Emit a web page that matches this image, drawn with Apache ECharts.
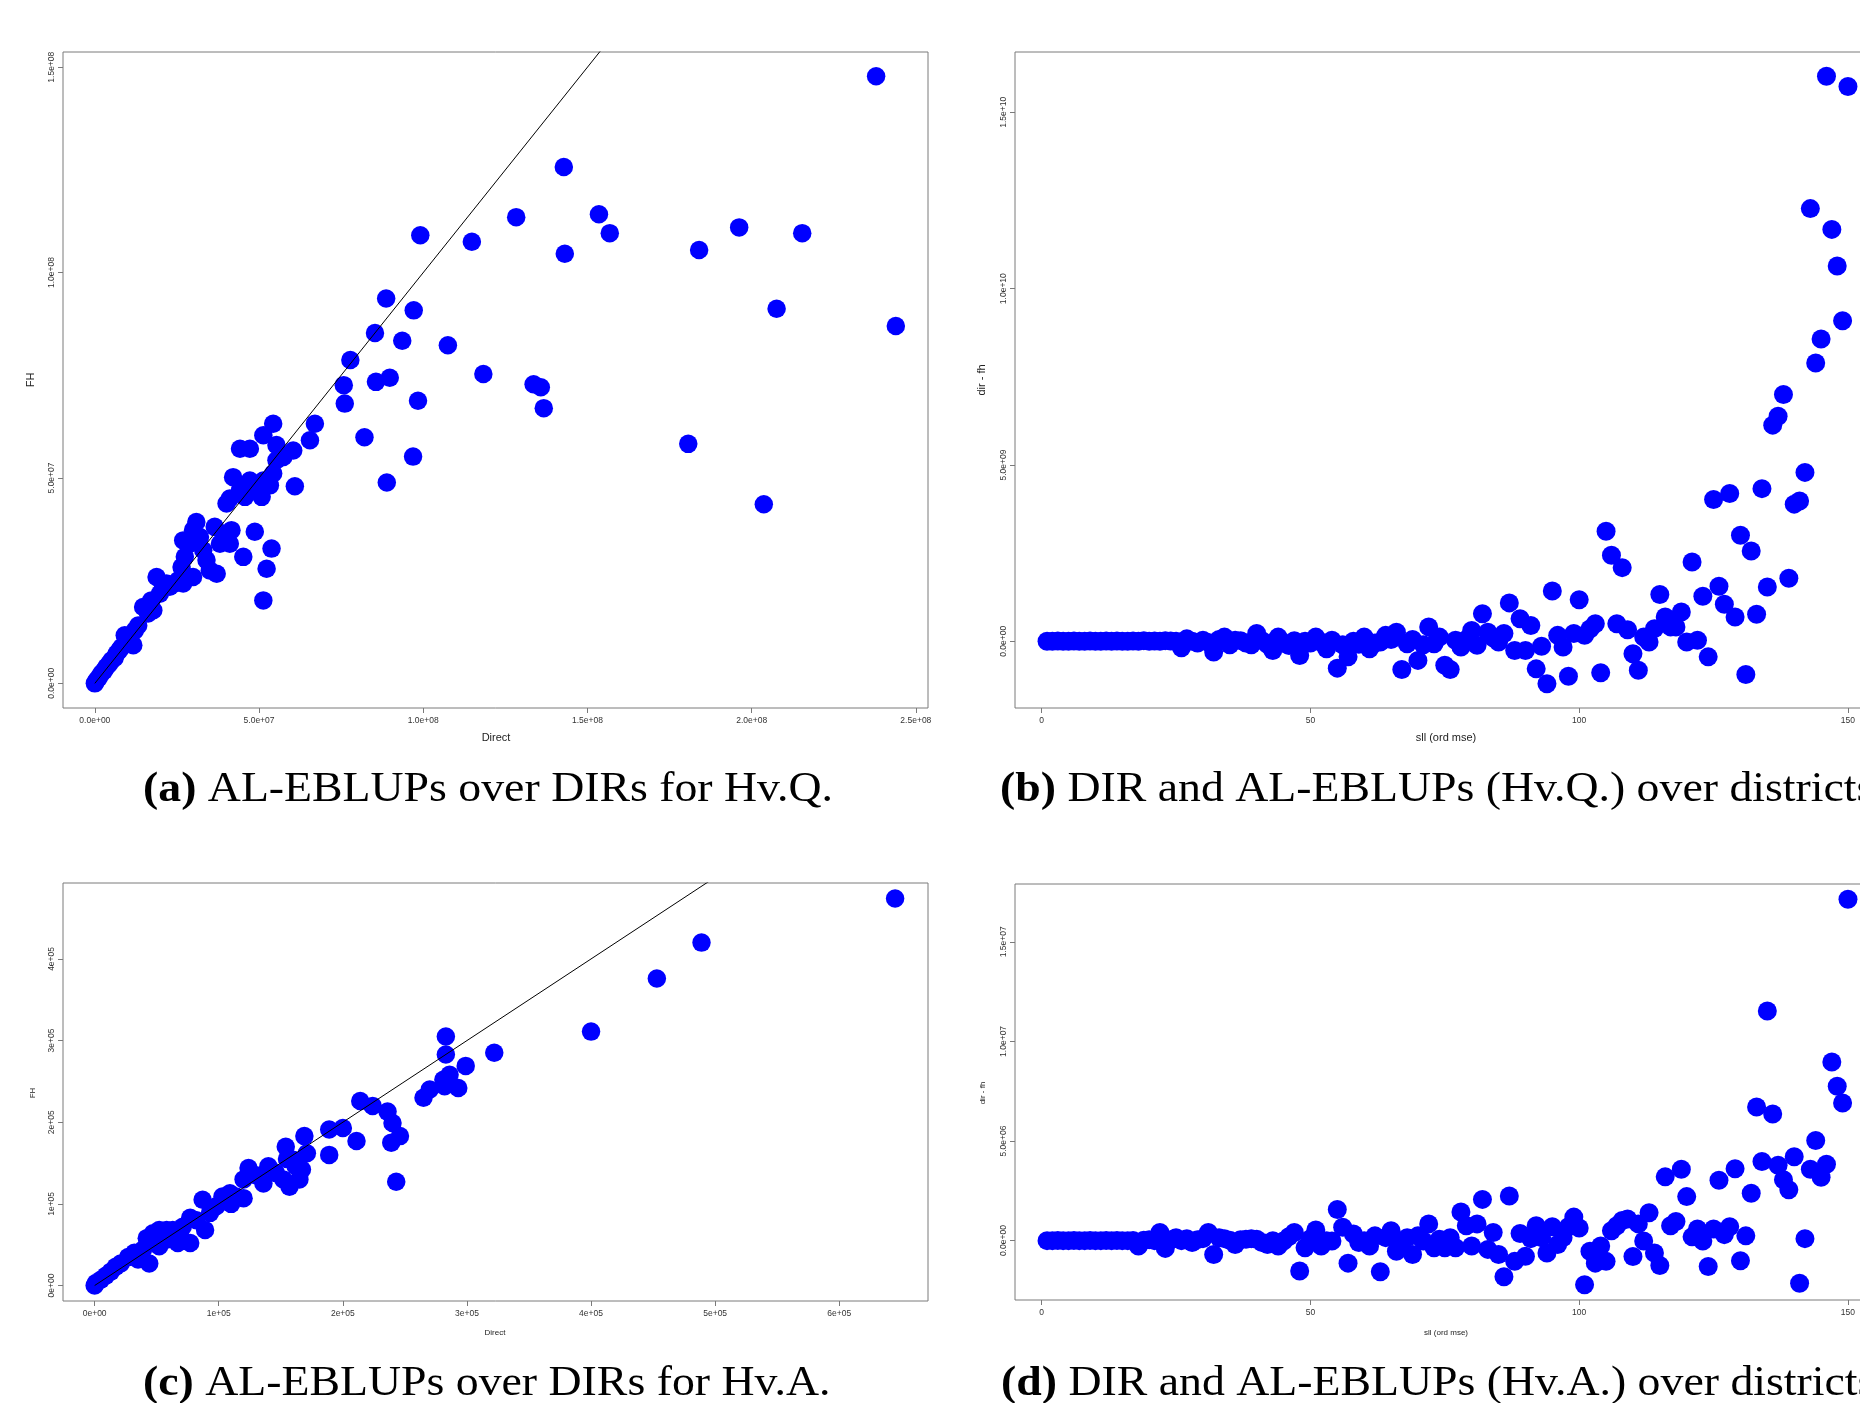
<!DOCTYPE html>
<html><head><meta charset="utf-8">
<script src="https://cdn.jsdelivr.net/npm/echarts@6/dist/echarts.min.js"></script>
<style>html,body{margin:0;padding:0;background:#fff}#c{width:1860px;height:1403px}</style>
</head><body><div id="c"></div><script>
// ---------- Panel (a): Hv.Q. FH over Direct ----------
const aDirect = [23.79e7,14.28e7,12.83e7,15.35e7,15.68e7,9.91e7,11.48e7,14.31e7,18.40e7,19.62e7,21.54e7,20.76e7,24.39e7,8.87e7,9.71e7,8.53e7,9.36e7,10.75e7,7.78e7,11.83e7,7.58e7,8.56e7,8.98e7,13.36e7,13.58e7,13.67e7,9.84e7,7.61e7,9.69e7,18.07e7,20.37e7,8.89e7,8.21e7,
 0.05e7,0.20e7,0.35e7,0.51e7,0.66e7,0.81e7,0.91e7,1.06e7,1.17e7,1.22e7,1.32e7,1.47e7,1.62e7,1.78e7,1.72e7,1.88e7,1.98e7,2.08e7,2.18e7,2.28e7,2.43e7,2.54e7,2.69e7,2.84e7,2.99e7,2.64e7,2.74e7,2.69e7,2.89e7,2.99e7,3.09e7,3.20e7,3.30e7,3.40e7,3.50e7,3.71e7,3.65e7,3.81e7,3.91e7,4.11e7,4.16e7,4.52e7,4.87e7,5.23e7,5.38e7,5.13e7,4.01e7,4.11e7,4.21e7,4.42e7,4.57e7,4.72e7,4.92e7,5.08e7,5.13e7,5.33e7,5.43e7,5.53e7,5.74e7,6.04e7,5.13e7,5.43e7,4.72e7,4.42e7,5.53e7,6.09e7,6.55e7,6.70e7,
 0.12e7,0.28e7,0.43e7,0.60e7,0.74e7,0.98e7,0];
const aFH = [14.78e7,12.57e7,11.35e7,11.42e7,10.96e7,10.91e7,10.75e7,10.46e7,10.55e7,11.10e7,10.96e7,9.12e7,8.70e7,9.37e7,9.08e7,8.53e7,8.34e7,8.23e7,7.87e7,7.53e7,7.26e7,7.34e7,7.44e7,7.28e7,7.21e7,6.70e7,6.88e7,6.81e7,5.52e7,5.83e7,4.36e7,4.89e7,5.99e7,
 0.07e7,0.24e7,0.40e7,0.56e7,0.72e7,0.88e7,1.17e7,1.13e7,0.93e7,1.29e7,1.41e7,1.86e7,1.70e7,1.78e7,2.02e7,2.59e7,2.18e7,2.35e7,2.43e7,2.35e7,2.43e7,2.51e7,2.43e7,2.59e7,2.59e7,2.83e7,3.08e7,3.48e7,3.40e7,3.73e7,3.93e7,3.56e7,3.24e7,3.00e7,2.75e7,2.67e7,3.81e7,3.40e7,3.64e7,3.40e7,3.73e7,3.08e7,3.69e7,2.79e7,3.28e7,2.02e7,4.38e7,4.50e7,5.02e7,4.70e7,4.54e7,4.94e7,4.78e7,4.54e7,4.94e7,4.82e7,5.11e7,5.43e7,5.51e7,5.67e7,6.04e7,6.32e7,5.71e7,5.71e7,5.80e7,4.80e7,5.92e7,6.32e7,
 0.14e7,0.31e7,0.47e7,0.62e7,0.80e7,1.02e7,0];
const aXTicks = [0, 5e7, 1e8, 1.5e8, 2e8, 2.5e8];
const aXLabels = ['0.0e+00','5.0e+07','1.0e+08','1.5e+08','2.0e+08','2.5e+08'];
const aYTicks = [0, 5e7, 1e8, 1.5e8];
const aYLabels = ['0.0e+00','5.0e+07','1.0e+08','1.5e+08'];

// ---------- Panel (b): Hv.Q. dir - fh over sll (ord mse) ----------
const bDiff = [0.00,0.00,0.01,0.00,0.00,0.01,0.00,0.00,0.01,0.00,0.00,0.01,0.00,0.01,0.00,0.00,0.01,0.00,0.02,0.00,0.01,0.00,0.02,0.01,0.00,
 -0.18,0.07,0.00,-0.05,0.03,-0.03,-0.30,0.05,0.12,-0.10,0.03,0.02,-0.05,-0.10,0.22,0.02,-0.08,-0.26,0.12,-0.05,-0.12,0.02,-0.40,0.00,-0.05,
 0.12,-0.03,-0.21,0.03,-0.76,-0.10,-0.44,0.00,-0.08,0.12,-0.21,-0.05,-0.02,0.17,0.05,0.26,-0.80,-0.07,0.05,-0.54,-0.10,0.41,-0.07,0.12,-0.68,
 -0.80,0.03,-0.16,0.05,0.31,-0.11,0.78,0.26,0.10,-0.02,0.22,1.09,-0.26,0.64,-0.26,0.45,-0.78,-0.14,-1.20,1.43,0.17,-0.16,-0.99,0.22,1.18,
 0.17,0.35,0.50,-0.89,3.12,2.44,0.50,2.09,0.33,-0.35,-0.82,0.12,-0.02,0.36,1.33,0.69,0.41,0.41,0.83,-0.02,2.25,0.03,1.28,-0.44,4.02,
 1.56,1.05,4.19,0.69,3.01,-0.94,2.56,0.77,4.33,1.54,6.13,6.38,7.00,1.79,3.89,3.98,4.79,12.27,7.89,8.57,16.02,11.68,10.64,9.09,15.73]; // x 1e9
const bXTicks = [0, 50, 100, 150];
const bXLabels = ['0','50','100','150'];
const bYTicks = [0, 5e9, 1e10, 1.5e10];
const bYLabels = ['0.0e+00','5.0e+09','1.0e+10','1.5e+10'];

// ---------- Panel (c): Hv.A. FH over Direct ----------
const cDirect = [0,0.01,0.05,0.09,0.13,0.17,0.21,0.27,0.32,0.39,0.44,0.42,0.47,0.52,0.58,0.63,0.67,0.70,0.77,0.77,0.71,0.52,0.58,0.89,0.87,0.93,0.98,1.03,1.09,1.14,1.20,1.20,1.24,1.36,1.40,1.46,1.52,1.54,1.57,1.60,1.62,1.65,1.67,1.71,1.69,1.89,2.00,1.89,2.11,2.14,2.24,2.36,2.40,2.46,2.39,2.43,2.65,2.70,2.81,2.82,2.86,2.93,2.83,2.83,2.99,3.22,4.00,4.53,4.89,6.45,0.35,0.60,0.82,1.30,1.55,1.10]; // x 1e5
const cFH = [0,0.03,0.07,0.12,0.17,0.23,0.27,0.35,0.40,0.44,0.27,0.58,0.64,0.68,0.68,0.68,0.52,0.56,0.52,0.83,0.72,0.48,0.56,0.68,1.05,0.89,0.97,1.09,1.13,1.09,1.07,1.30,1.44,1.25,1.46,1.38,1.30,1.70,1.21,1.54,1.46,1.30,1.42,1.62,1.83,1.91,1.93,1.60,1.77,2.26,2.20,2.13,1.99,1.83,1.75,1.27,2.30,2.40,2.52,2.44,2.58,2.42,2.83,3.05,2.69,2.85,3.11,3.76,4.20,4.74,0.32,0.60,0.80,1.35,1.55,1.00]; // x 1e5
const cXTicks = [0, 1e5, 2e5, 3e5, 4e5, 5e5, 6e5];
const cXLabels = ['0e+00','1e+05','2e+05','3e+05','4e+05','5e+05','6e+05'];
const cYTicks = [0, 1e5, 2e5, 3e5, 4e5];
const cYLabels = ['0e+00','1e+05','2e+05','3e+05','4e+05'];

// ---------- Panel (d): Hv.A. dir - fh over sll (ord mse) ----------
const dDiff = [0.00,0.00,0.01,0.00,0.00,0.01,0.00,0.00,0.01,0.00,0.00,0.01,0.00,0.01,0.00,0.00,0.01,-0.27,0.02,0.05,0.00,0.41,-0.39,0.05,0.15,
 0.00,0.10,-0.10,0.05,0.10,0.41,-0.70,0.15,0.10,0.02,-0.19,0.05,0.07,0.10,0.07,-0.10,-0.19,0.00,-0.27,-0.02,0.20,0.41,-1.52,-0.36,0.10,
 0.53,-0.27,0.00,-0.02,1.56,0.67,-1.13,0.33,-0.10,0.00,-0.27,0.24,-1.56,0.15,0.50,-0.53,-0.10,0.15,-0.70,0.24,-0.02,0.84,-0.36,0.07,-0.36,
 0.15,-0.36,1.44,0.75,-0.27,0.84,2.07,-0.44,0.41,-0.70,-1.81,2.24,-1.04,0.36,-0.79,0.10,0.75,0.15,-0.62,0.70,-0.19,0.15,0.70,1.18,0.63,
 -2.21,-0.53,-1.13,-0.27,-1.04,0.50,0.75,1.01,1.09,-0.80,0.84,-0.02,1.40,-0.62,-1.25,3.20,0.75,0.96,3.58,2.21,0.19,0.58,-0.02,-1.30,0.58,
 3.03,0.30,0.70,3.61,-1.01,0.24,2.38,6.71,3.97,11.53,6.36,3.78,3.06,2.55,4.21,-2.14,0.10,3.58,5.03,3.18,3.83,8.97,7.75,6.91,17.13]; // x 1e6
const dXTicks = [0, 50, 100, 150];
const dXLabels = ['0','50','100','150'];
const dYTicks = [0, 5e6, 1e7, 1.5e7];
const dYLabels = ['0.0e+00','5.0e+06','1.0e+07','1.5e+07'];

const ptsA = aDirect.map((x, i) => [x, aFH[i]]);
const ptsB = bDiff.map((y, i) => [i + 1, y * 1e9]);
const ptsC = cDirect.map((x, i) => [x * 1e5, cFH[i] * 1e5]);
const ptsD = dDiff.map((y, i) => [i + 1, y * 1e6]);

const TICKFONT = 'Liberation Sans Narrow, Liberation Sans, Arial, sans-serif';
const SERIF = 'Liberation Serif, Times New Roman, serif';
const BOX = '#7a7a7a';
function fmt(vals, labels) {
  return function (v) {
    const i = vals.findIndex(t => Math.abs(t - v) <= 1e-6 * Math.max(1, Math.abs(t)));
    return i >= 0 ? labels[i] : '';
  };
}
function ax(gi, min, max, vals, labels, isY) {
  return {
    type: 'value', gridIndex: gi, min: min, max: max, scale: true,
    axisLine: { show: false, onZero: false },
    splitLine: { show: false },
    axisTick: { show: true, inside: false, length: 5, customValues: vals, lineStyle: { color: BOX, width: 1 } },
    axisLabel: {
      customValues: vals, formatter: fmt(vals, labels), fontSize: 8.5, fontFamily: TICKFONT,
      color: '#333', margin: isY ? 7 : 8, rotate: isY ? 90 : 0, hideOverlap: false
    }
  };
}
const gridBase = { show: true, borderColor: BOX, borderWidth: 1, backgroundColor: '#fff', containLabel: false, outerBoundsMode: 'none' };

const scatterStyle = { color: '#0000ff', opacity: 1 };
function caption(x, y, bold, rest) {
  return { type: 'text', x: x, y: y, scaleX: 1.09, silent: true,
    style: { text: '{b|' + bold + '}' + rest, fontSize: 42, fontFamily: SERIF, fill: '#000', align: 'left', verticalAlign: 'middle',
      rich: { b: { fontWeight: 'bold', fontSize: 42, fontFamily: SERIF, fill: '#000' } } } };
}
function label(x, y, text, size, rot) {
  return { type: 'text', x: x, y: y, rotation: rot ? Math.PI / 2 : 0, silent: true,
    style: { text: text, fontSize: size, fontFamily: TICKFONT, fill: '#222', align: 'center', verticalAlign: 'middle' } };
}
const option = {
  animation: false,
  backgroundColor: '#ffffff',
  grid: [
    Object.assign({ left: 63, top: 52, width: 865, height: 656 }, gridBase),
    Object.assign({ left: 1015, top: 52, width: 865, height: 656 }, gridBase),
    Object.assign({ left: 63, top: 883, width: 865, height: 418 }, gridBase),
    Object.assign({ left: 1015, top: 884, width: 865, height: 416 }, gridBase)
  ],
  xAxis: [
    ax(0, -9.7e6, 2.537e8, aXTicks, aXLabels, false),
    ax(1, -4.96, 155.96, bXTicks, bXLabels, false),
    ax(2, -25500, 6.715e5, cXTicks, cXLabels, false),
    ax(3, -4.96, 155.96, dXTicks, dXLabels, false)
  ],
  yAxis: [
    ax(0, -6.0e6, 1.537e8, aYTicks, aYLabels, true),
    ax(1, -1.89e9, 1.671e10, bYTicks, bYLabels, true),
    ax(2, -18960, 4.93e5, cYTicks, cYLabels, true),
    ax(3, -2.98e6, 1.79e7, dYTicks, dYLabels, true)
  ],
  series: [
    { type: 'scatter', xAxisIndex: 0, yAxisIndex: 0, data: ptsA, symbol: 'circle', symbolSize: 18.5, itemStyle: scatterStyle, silent: true, z: 2 },
    { type: 'line', xAxisIndex: 0, yAxisIndex: 0, data: [[0, 0], [2.6e8, 2.6e8]], showSymbol: false, symbol: 'none', clip: true, lineStyle: { color: '#000', width: 1 }, silent: true, z: 5 },
    { type: 'scatter', xAxisIndex: 1, yAxisIndex: 1, data: ptsB, symbol: 'circle', symbolSize: 19, itemStyle: scatterStyle, silent: true, z: 2 },
    { type: 'scatter', xAxisIndex: 2, yAxisIndex: 2, data: ptsC, symbol: 'circle', symbolSize: 18.5, itemStyle: scatterStyle, silent: true, z: 2 },
    { type: 'line', xAxisIndex: 2, yAxisIndex: 2, data: [[0, 0], [7e5, 7e5]], showSymbol: false, symbol: 'none', clip: true, lineStyle: { color: '#000', width: 1 }, silent: true, z: 5 },
    { type: 'scatter', xAxisIndex: 3, yAxisIndex: 3, data: ptsD, symbol: 'circle', symbolSize: 19, itemStyle: scatterStyle, silent: true, z: 2 }
  ],
  graphic: [
    label(496, 738, 'Direct', 11, false),
    label(31, 380, 'FH', 11, true),
    label(1446, 738, 'sll (ord mse)', 11, false),
    label(982, 380, 'dir - fh', 11, true),
    label(495, 1333, 'Direct', 8, false),
    label(33, 1093, 'FH', 8, true),
    label(1446, 1333, 'sll (ord mse)', 8, false),
    label(983, 1093, 'dir - fh', 8, true),
    caption(143, 790, '(a)', ' AL-EBLUPs over DIRs for Hv.Q.'),
    caption(1000, 790, '(b)', ' DIR and AL-EBLUPs (Hv.Q.) over districts'),
    caption(143, 1384, '(c)', ' AL-EBLUPs over DIRs for Hv.A.'),
    caption(1001, 1384, '(d)', ' DIR and AL-EBLUPs (Hv.A.) over districts')
  ]
};
const chart = echarts.init(document.getElementById('c'), null, { renderer: 'canvas', width: 1860, height: 1403 });
chart.setOption(option);
</script></body></html>
